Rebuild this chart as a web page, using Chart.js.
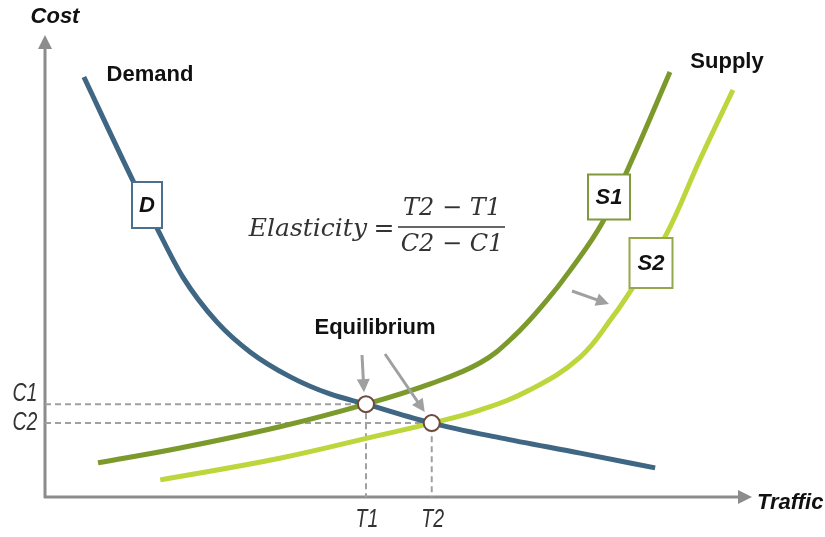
<!DOCTYPE html>
<html>
<head>
<meta charset="utf-8">
<script src="https://cdn.jsdelivr.net/npm/chart.js@4.4.0/dist/chart.umd.min.js"></script>
<style>
  html, body { margin: 0; padding: 0; background: #fff; }
  canvas { display: block; }
</style>
</head>
<body>
<canvas id="elasticityChart" width="825" height="537"></canvas>
<script>
// traffic (x) and cost (y) on a 0..100 scale
const demandTraffic = [5.5, 12.4, 15.6, 19.5, 24.3, 29.0, 34.7, 40.3, 45.4, 54.7, 64.4, 75.7, 86.3];
const demandCost    = [90.9, 68.6, 58.9, 47.6, 37.9, 31.4, 26.0, 22.3, 20.1, 16.0, 12.8, 9.5, 6.3];

const supply1Traffic = [7.5, 19.1, 33.2, 45.4, 54.5, 61.5, 66.2, 71.0, 74.3, 78.8, 83.0, 88.4];
const supply1Cost    = [7.4, 10.6, 15.2, 20.1, 24.5, 29.0, 34.6, 42.6, 49.1, 59.3, 72.9, 92.0];

const supply2Traffic = [16.3, 33.2, 47.4, 54.7, 61.5, 68.6, 75.7, 80.3, 83.2, 87.7, 92.6, 97.3];
const supply2Cost    = [3.7, 8.4, 13.4, 16.0, 18.8, 23.2, 30.3, 39.0, 45.5, 56.3, 72.9, 88.1];

const equilibriumTraffic = [45.4, 54.7];
const equilibriumCost    = [20.1, 16.0];
const trafficTicks = ['T1', 'T2'];
const costTicks    = ['C1', 'C2'];

const pairs = (xs, ys) => xs.map((x, i) => ({x: x, y: ys[i]}));

const guideSets = equilibriumTraffic.map((t, i) => ({
    data: [{x: 0, y: equilibriumCost[i]}, {x: t, y: equilibriumCost[i]}, {x: t, y: 0}],
    showLine: true,
    borderColor: '#a0a0a0',
    borderWidth: 2,
    borderDash: [6, 4],
    pointRadius: 0,
    tension: 0,
    order: 5
}));

const labelFont = 'bold 22px "Liberation Sans", Arial, sans-serif';

function arrow(ctx, x1, y1, x2, y2, color, width, head) {
    const a = Math.atan2(y2 - y1, x2 - x1);
    ctx.strokeStyle = color;
    ctx.fillStyle = color;
    ctx.lineWidth = width;
    ctx.beginPath();
    ctx.moveTo(x1, y1);
    ctx.lineTo(x2 - Math.cos(a) * head * 0.8, y2 - Math.sin(a) * head * 0.8);
    ctx.stroke();
    ctx.beginPath();
    ctx.moveTo(x2, y2);
    ctx.lineTo(x2 - head * Math.cos(a) + head * 0.5 * Math.sin(a), y2 - head * Math.sin(a) - head * 0.5 * Math.cos(a));
    ctx.lineTo(x2 - head * Math.cos(a) - head * 0.5 * Math.sin(a), y2 - head * Math.sin(a) + head * 0.5 * Math.cos(a));
    ctx.closePath();
    ctx.fill();
}

function box(ctx, cx, cy, w, h, border, text) {
    ctx.fillStyle = '#fff';
    ctx.fillRect(cx - w / 2, cy - h / 2, w, h);
    ctx.strokeStyle = border;
    ctx.lineWidth = 2;
    ctx.strokeRect(cx - w / 2, cy - h / 2, w, h);
    ctx.fillStyle = '#111';
    ctx.font = 'italic bold 22px "Liberation Sans", Arial, sans-serif';
    ctx.textAlign = 'center';
    ctx.textBaseline = 'middle';
    ctx.fillText(text, cx, cy + 1);
}

// narrow italic, squeezed like Arial Narrow
function narrowText(ctx, text, x, y) {
    ctx.save();
    ctx.translate(x, y);
    ctx.scale(0.78, 1);
    ctx.font = 'italic 25px "Liberation Sans", Arial, sans-serif';
    ctx.textAlign = 'center';
    ctx.textBaseline = 'middle';
    ctx.fillStyle = '#333';
    ctx.fillText(text, 0, 0);
    ctx.restore();
}

const axesPlugin = {
    id: 'axesPlugin',
    beforeDatasetsDraw(chart) {
        const ctx = chart.ctx;
        const x = chart.scales.x, y = chart.scales.y;
        const ox = x.getPixelForValue(0), oy = y.getPixelForValue(0);
        ctx.save();
        arrow(ctx, ox, oy + 1, ox, y.getPixelForValue(100), '#8c8c8c', 3, 14);
        arrow(ctx, ox - 1, oy, x.getPixelForValue(100), oy, '#8c8c8c', 3, 14);
        ctx.restore();
    },
    afterDatasetsDraw(chart) {
        const ctx = chart.ctx;
        const x = chart.scales.x, y = chart.scales.y;
        ctx.save();

        // axis titles
        ctx.fillStyle = '#111';
        ctx.font = 'italic bold 22px "Liberation Sans", Arial, sans-serif';
        ctx.textAlign = 'center';
        ctx.textBaseline = 'middle';
        ctx.fillText('Cost', x.getPixelForValue(0) + 10, 17);
        ctx.textAlign = 'left';
        ctx.fillText('Traffic', x.getPixelForValue(100) + 5, y.getPixelForValue(0) + 6);

        // tick labels at equilibrium values
        const costShift = [-10, 0];
        costTicks.forEach((t, i) => narrowText(ctx, t, x.getPixelForValue(0) - 20, y.getPixelForValue(equilibriumCost[i]) + costShift[i]));
        trafficTicks.forEach((t, i) => narrowText(ctx, t, x.getPixelForValue(equilibriumTraffic[i]) + 1, y.getPixelForValue(0) + 23));

        // curve labels
        ctx.fillStyle = '#111';
        ctx.font = labelFont;
        ctx.textAlign = 'center';
        ctx.fillText('Demand', 150, 75);
        ctx.fillText('Supply', 727, 62);
        ctx.fillText('Equilibrium', 375, 328);

        box(ctx, 147, 205, 30, 46, '#4a7090', 'D');
        box(ctx, 609, 197, 42, 45, '#7f9a3a', 'S1');
        box(ctx, 651, 263, 43, 50, '#93a84a', 'S2');

        // arrows
        const e1x = x.getPixelForValue(equilibriumTraffic[0]), e1y = y.getPixelForValue(equilibriumCost[0]);
        const e2x = x.getPixelForValue(equilibriumTraffic[1]), e2y = y.getPixelForValue(equilibriumCost[1]);
        arrow(ctx, 362, 355, e1x - 2, e1y - 12, '#a0a0a0', 3, 13);
        arrow(ctx, 385, 354, e2x - 7, e2y - 11, '#a0a0a0', 3, 13);
        arrow(ctx, 572, 291, 609, 304, '#a0a0a0', 3, 13);

        // formula
        ctx.fillStyle = '#333';
        ctx.font = 'italic 25px "DejaVu Serif", "Liberation Serif", serif';
        ctx.textAlign = 'right';
        ctx.fillText('Elasticity', 367, 229);
        ctx.font = '25px "DejaVu Serif", "Liberation Serif", serif';
        ctx.textAlign = 'center';
        ctx.fillText('=', 384, 229);
        ctx.font = 'italic 24px "DejaVu Serif", "Liberation Serif", serif';
        ctx.fillText('T2 \u2212 T1', 452, 209);
        ctx.fillText('C2 \u2212 C1', 452, 245);
        ctx.strokeStyle = '#333';
        ctx.lineWidth = 1.5;
        ctx.beginPath();
        ctx.moveTo(398, 227);
        ctx.lineTo(505, 227);
        ctx.stroke();

        ctx.restore();
    }
};

new Chart(document.getElementById('elasticityChart'), {
    type: 'scatter',
    data: {
        datasets: [
            {
                label: 'Equilibrium',
                data: pairs(equilibriumTraffic, equilibriumCost),
                pointRadius: 8,
                pointBackgroundColor: '#fff',
                pointBorderColor: '#6e4a3e',
                pointBorderWidth: 2,
                order: 0
            },
            {
                label: 'Demand',
                data: pairs(demandTraffic, demandCost),
                showLine: true,
                borderColor: '#3f6683',
                borderWidth: 5,
                pointRadius: 0,
                cubicInterpolationMode: 'monotone',
                order: 2
            },
            {
                label: 'S1',
                data: pairs(supply1Traffic, supply1Cost),
                showLine: true,
                borderColor: '#7c9a2c',
                borderWidth: 5,
                pointRadius: 0,
                tension: 0.4,
                order: 1
            },
            {
                label: 'S2',
                data: pairs(supply2Traffic, supply2Cost),
                showLine: true,
                borderColor: '#bcd63c',
                borderWidth: 5,
                pointRadius: 0,
                tension: 0.4,
                order: 3
            },
            ...guideSets
        ]
    },
    options: {
        responsive: false,
        animation: false,
        clip: false,
        layout: {
            padding: {left: 45, right: 73, top: 35, bottom: 40}
        },
        scales: {
            x: {type: 'linear', min: 0, max: 100, display: false},
            y: {type: 'linear', min: 0, max: 100, display: false}
        },
        plugins: {
            legend: {display: false},
            tooltip: {enabled: false}
        }
    },
    plugins: [axesPlugin]
});
</script>
</body>
</html>
